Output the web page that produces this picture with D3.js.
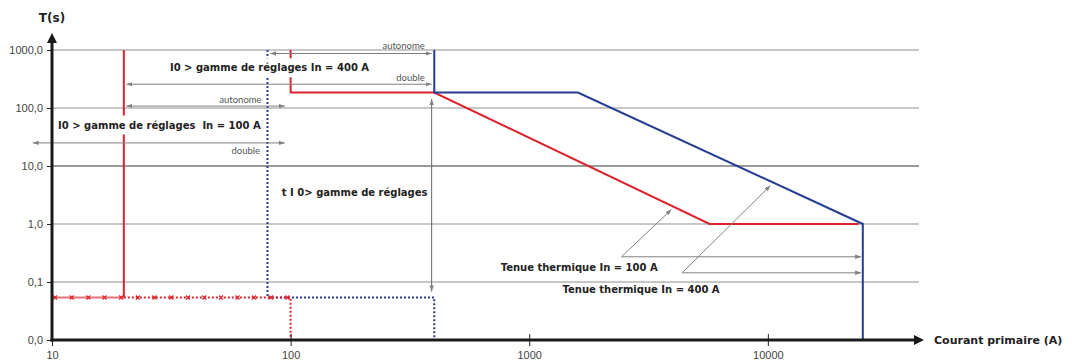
<!DOCTYPE html>
<html>
<head>
<meta charset="utf-8">
<script src="https://cdn.jsdelivr.net/npm/d3@7"></script>
<style>
  body { margin: 0; background: #fff; }
  svg { display: block; font-family: Lato, "DejaVu Sans", sans-serif; }
  .bold { font-family: "DejaVu Sans", sans-serif; font-weight: bold; }
</style>
</head>
<body>
<svg id="chart" width="1072" height="360"></svg>
<script>
// tick values and labels
const xTicks = [10, 100, 1000, 10000];
const xTickLabels = ["10", "100", "1000", "10000"];
const yTicks = [0.01, 0.1, 1, 10, 100, 1000];
const yTickLabels = ["0,0", "0,1", "1,0", "10,0", "100,0", "1000,0"];

// curves, [current (A), time (s)]
const red100Vertical = [[20, 1000], [20, 0.054]];
const red100Solid = [[10, 0.054], [20, 0.054]];
const red100Dotted = [[20, 0.054], [100, 0.054], [100, 0.01]];
const red100Markers = [10.3, 12.1, 14.2, 16.6, 19.5, 22.9, 26.9, 31.6, 37.1, 43.5, 51.1, 59.9, 70.3, 82.6, 96.9];
const blue400Dotted = [[80, 1000], [80, 0.054], [400, 0.054], [400, 0.01]];
const red400Curve = [[100, 1000], [100, 185], [400, 185], [5700, 1], [24000, 1]];
const blue400Curve = [[400, 1000], [400, 185], [1600, 185], [25000, 1], [25000, 0.01]];

// range arrows (horizontal), time, from, to
const rangeNames = ["autonome", "double", "autonome", "double"];
const rangeTimes = [870, 257, 108, 25];
const rangeFrom = [82, 20.5, 20.5, 8.3];
const rangeTo = [390, 390, 94.6, 94.6];
const rangeLabelT = [1195, 336, 140, 18.5];
const rangeLabelX = [365, 365, 75.6, 74.5];

// vertical arrow t I0
const tArrow = [[390, 143], [390, 0.0686]];

// thermal withstand leaders: start, tip, horizontal end
const leaderStart = [[2436, 0.272], [4372, 0.144]];
const leaderTip = [[3945, 1.78], [10254, 4.61]];
const leaderEnd = 24600;

// bold labels: text, x start (A), t centre (s)
const labelTexts = ["I0 > gamme de réglages In = 400 A", "I0 > gamme de réglages  In = 100 A", "t I 0> gamme de réglages", "Tenue thermique In = 100 A", "Tenue thermique In = 400 A"];
const labelX = [31.2, 10.6, 91.9, 759, 1379];
const labelT = [493, 50.9, 3.45, 0.176, 0.0743];
const labelMask = [true, true, false, false, false];

const red = "#d9232d", blue = "#263d92", gray = "#808080";

const svg = d3.select("#chart");

const x = d3.scaleLog().domain([10, 43000]).range([52, 919]);
const y = d3.scaleLog().domain([0.01, 1000]).range([340, 50]);

const line = d3.line().x(d => x(d[0])).y(d => y(d[1]));

// markers
const defs = svg.append("defs");
defs.append("marker")
    .attr("id", "ga")
    .attr("viewBox", "0 0 6 6")
    .attr("refX", 6).attr("refY", 3)
    .attr("markerWidth", 6).attr("markerHeight", 6)
    .attr("markerUnits", "userSpaceOnUse")
    .attr("orient", "auto-start-reverse")
    .append("path").attr("d", "M0,0.8L6,3L0,5.2Z").attr("fill", gray);
defs.append("marker")
    .attr("id", "ka")
    .attr("viewBox", "0 0 10 10")
    .attr("refX", 2).attr("refY", 5)
    .attr("markerWidth", 10).attr("markerHeight", 10)
    .attr("markerUnits", "userSpaceOnUse")
    .attr("orient", "auto")
    .append("path").attr("d", "M0,0L10,5L0,10Z").attr("fill", "#1a1a1a");

// gridlines
svg.append("g")
    .selectAll("line")
    .data(yTicks.slice(1))
    .enter()
    .append("line")
    .attr("x1", x(10)).attr("x2", x.range()[1])
    .attr("y1", d => y(d)).attr("y2", d => y(d))
    .attr("stroke", d => d === 10 ? "#7a7a7a" : "#b4b4b4")
    .attr("stroke-width", 1.3);

// dotted blue
svg.append("path")
    .attr("d", line(blue400Dotted))
    .attr("fill", "none").attr("stroke", blue)
    .attr("stroke-width", 2).attr("stroke-dasharray", "2,2");

// red In = 100 A
svg.append("path")
    .attr("d", line(red100Solid))
    .attr("fill", "none").attr("stroke", "#e5737a").attr("stroke-width", 2);
svg.append("path")
    .attr("d", line(red100Dotted))
    .attr("fill", "none").attr("stroke", red)
    .attr("stroke-width", 2).attr("stroke-dasharray", "2,2");
svg.append("path")
    .attr("d", line(red100Vertical))
    .attr("fill", "none").attr("stroke", red).attr("stroke-width", 2);
svg.append("g")
    .selectAll("path")
    .data(red100Markers)
    .enter()
    .append("path")
    .attr("transform", d => `translate(${x(d)},${y(0.054)})`)
    .attr("d", "M-2,-2L2,2M-2,2L2,-2")
    .attr("stroke", red).attr("stroke-width", 1.2);

// red In = 400 A and blue
svg.append("path")
    .attr("d", line(red400Curve))
    .attr("fill", "none").attr("stroke", red).attr("stroke-width", 2);
svg.append("path")
    .attr("d", line(blue400Curve))
    .attr("fill", "none").attr("stroke", blue).attr("stroke-width", 2);

// range arrows
const ann = svg.append("g");
rangeTimes.forEach((t, i) => {
    ann.append("line")
        .attr("x1", x(rangeFrom[i])).attr("x2", x(rangeTo[i]))
        .attr("y1", y(t)).attr("y2", y(t))
        .attr("stroke", gray).attr("stroke-width", 1)
        .attr("marker-start", "url(#ga)").attr("marker-end", "url(#ga)");
    ann.append("text")
        .attr("x", x(rangeLabelX[i])).attr("y", y(rangeLabelT[i]))
        .attr("dy", "0.35em")
        .attr("text-anchor", "end")
        .attr("font-size", 9.5).attr("fill", "#555")
        .text(rangeNames[i]);
});
ann.append("line")
    .attr("x1", x(tArrow[0][0])).attr("x2", x(tArrow[1][0]))
    .attr("y1", y(tArrow[0][1])).attr("y2", y(tArrow[1][1]))
    .attr("stroke", "#666").attr("stroke-width", 1)
    .attr("marker-start", "url(#ga)").attr("marker-end", "url(#ga)");

leaderStart.forEach((s, i) => {
    ann.append("line")
        .attr("x1", x(s[0])).attr("y1", y(s[1]))
        .attr("x2", x(leaderTip[i][0])).attr("y2", y(leaderTip[i][1]))
        .attr("stroke", gray).attr("stroke-width", 1)
        .attr("marker-end", "url(#ga)");
    ann.append("line")
        .attr("x1", x(s[0])).attr("y1", y(s[1]))
        .attr("x2", x(leaderEnd)).attr("y2", y(s[1]))
        .attr("stroke", gray).attr("stroke-width", 1)
        .attr("marker-end", "url(#ga)");
});

// bold labels with white background where they cut lines
labelTexts.forEach((txt, i) => {
    const g = svg.append("g");
    const t = g.append("text")
        .attr("class", "bold")
        .attr("x", x(labelX[i])).attr("y", y(labelT[i]))
        .attr("dy", "0.35em")
        .attr("font-size", 10).attr("fill", "#222")
        .style("white-space", "pre")
        .text(txt);
    if (labelMask[i]) {
        const b = t.node().getBBox();
        g.insert("rect", "text")
            .attr("x", b.x - 3).attr("y", b.y - 4)
            .attr("width", b.width + 6).attr("height", b.height + 8)
            .attr("fill", "#fff");
    }
});

// axes
const xAxis = svg.append("g")
    .attr("transform", `translate(0,${y(0.01)})`)
    .call(d3.axisBottom(x).tickValues(xTicks).tickFormat((d, i) => xTickLabels[i]).tickSize(6).tickPadding(5));
xAxis.select(".domain").remove();
xAxis.selectAll(".tick line").attr("y1", -6).attr("stroke", "#222");
xAxis.selectAll(".tick text").attr("font-size", 11).attr("fill", "#444").attr("font-family", null);

const yAxis = svg.append("g")
    .attr("transform", `translate(${x(10)},0)`)
    .call(d3.axisLeft(y).tickValues(yTicks).tickFormat((d, i) => yTickLabels[i]).tickSize(5).tickPadding(4));
yAxis.select(".domain").remove();
yAxis.selectAll(".tick line").attr("stroke", "#222");
yAxis.selectAll(".tick text").attr("font-size", 11).attr("fill", "#444").attr("font-family", null);

svg.append("line")
    .attr("x1", x(10) - 1.5).attr("x2", x.range()[1] - 3)
    .attr("y1", y(0.01)).attr("y2", y(0.01))
    .attr("stroke", "#1a1a1a").attr("stroke-width", 3)
    .attr("marker-end", "url(#ka)");
svg.append("line")
    .attr("x1", x(10)).attr("x2", x(10))
    .attr("y1", y(0.01) + 1.5).attr("y2", y.range()[1] - 9)
    .attr("stroke", "#1a1a1a").attr("stroke-width", 3)
    .attr("marker-end", "url(#ka)");

svg.append("text")
    .attr("class", "bold")
    .attr("x", x.range()[1] + 15).attr("y", y(0.01))
    .attr("dy", "0.35em")
    .attr("font-size", 11).attr("fill", "#222")
    .text("Courant primaire (A)");
svg.append("text")
    .attr("class", "bold")
    .attr("x", x(10)).attr("y", 18)
    .attr("dy", "0.35em").attr("text-anchor", "middle")
    .attr("font-size", 12).attr("fill", "#222")
    .text("T(s)");
</script>
</body>
</html>
